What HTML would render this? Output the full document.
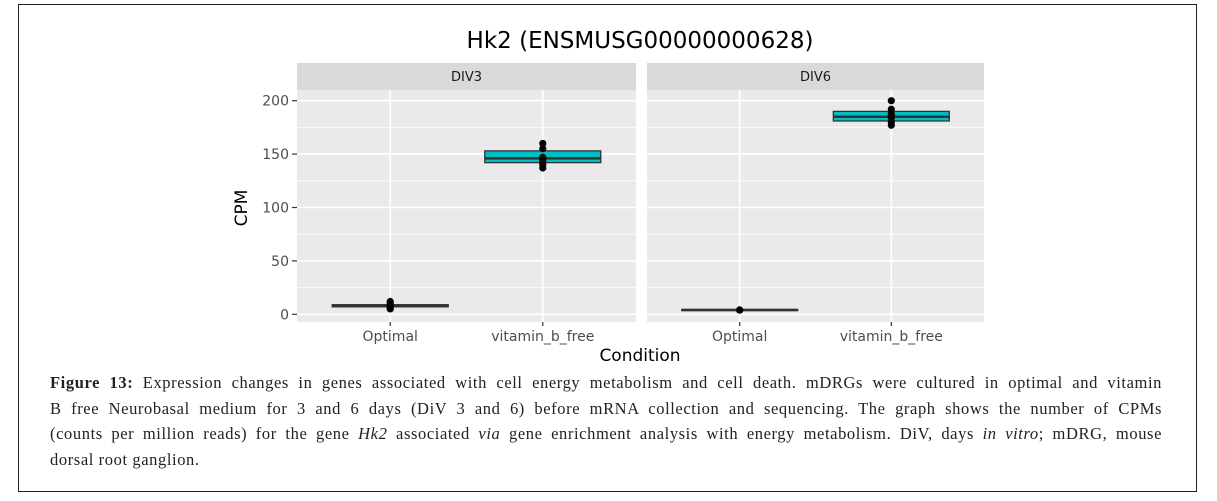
<!DOCTYPE html>
<html><head><meta charset="utf-8"><style>
body{margin:0;background:#fff;width:1217px;height:501px;overflow:hidden;position:relative}
#frame{position:absolute;left:18px;top:4px;width:1179px;height:488px;border:1.5px solid #222;box-sizing:border-box}
#cap{position:absolute;left:50px;top:370px;width:1112px;font-family:"Liberation Serif",serif;font-size:16.5px;letter-spacing:0.6px;line-height:25.5px;color:#222}
#cap div{white-space:nowrap;text-align:justify;text-align-last:justify}
#cap div.last{text-align-last:left}
svg{position:absolute;left:0;top:0}
</style></head><body>
<div id="frame"></div>
<svg id="chart" width="1217" height="370"></svg>
<div id="cap">
<div><b>Figure 13:</b> Expression changes in genes associated with cell energy metabolism and cell death. mDRGs were cultured in optimal and vitamin</div>
<div>B free Neurobasal medium for 3 and 6 days (DiV 3 and 6) before mRNA collection and sequencing. The graph shows the number of CPMs</div>
<div>(counts per million reads) for the gene <i>Hk2</i> associated <i>via</i> gene enrichment analysis with energy metabolism. DiV, days <i>in vitro</i>; mDRG, mouse</div>
<div class="last">dorsal root ganglion.</div>
</div>
<script>
const panels=["DIV3","DIV6"];
const categories=["Optimal","vitamin_b_free"];
const yTicks=[0,50,100,150,200];
// box stats per panel per category: [q1, median, q3]
const boxDIV3=[[7,8,9],[142,146,153]];
const boxDIV6=[[3.5,4,4.5],[181,185,190]];
const ptsDIV3Opt=[5,6,8,10,12];
const ptsDIV3Vit=[137,140,143,145,147,155,160];
const ptsDIV6Opt=[4,4,4];
const ptsDIV6Vit=[177,180,184,186,188,192,200];

const S=document.getElementById('chart');const NS='http://www.w3.org/2000/svg';
function el(t,a,p){const e=document.createElementNS(NS,t);for(const k in a)e.setAttribute(k,a[k]);(p||S).appendChild(e);return e;}
const panelX=[[297,636],[647,984]];const pTop=90,pBot=322;
function y(v){return 314.3-v*1.068;}
function x(pi,ci){const[a,b]=panelX[pi];const w=b-a;return a+w*(ci===0?0.275:0.725);}
const font='"DejaVu Sans","Liberation Sans",sans-serif';
const boxes=[boxDIV3,boxDIV6];const pts=[[ptsDIV3Opt,ptsDIV3Vit],[ptsDIV6Opt,ptsDIV6Vit]];
panels.forEach((p,pi)=>{
 const[a,b]=panelX[pi];
 const g=el('g',{});
 
 
 el('rect',{x:a,y:pTop,width:b-a,height:pBot-pTop,fill:'#EBE9EC'},g);
 const st=el('rect',{x:a,y:63,width:b-a,height:27,fill:'#D9D9D9'},g);
 
 
 const stt=el('text',{x:(a+b)/2,y:81,'text-anchor':'middle','font-family':font,'font-size':13,fill:'#1a1a1a'},g);stt.textContent=p;
 
 
 for(let i=0;i<yTicks.length-1;i++){const m=(yTicks[i]+yTicks[i+1])/2;el('line',{x1:a,x2:b,y1:y(m),y2:y(m),stroke:'#fff','stroke-width':0.8},g);}
 yTicks.forEach(t=>el('line',{x1:a,x2:b,y1:y(t),y2:y(t),stroke:'#fff','stroke-width':1.6},g));
 categories.forEach((c,ci)=>{
  const cx=x(pi,ci);
  el('line',{x1:cx,x2:cx,y1:pTop,y2:pBot,stroke:'#fff','stroke-width':1.6},g);
  el('line',{x1:cx,x2:cx,y1:pBot,y2:pBot+4,stroke:'#333','stroke-width':1.2},g);
  const lt=el('text',{x:cx,y:341,'text-anchor':'middle','font-family':font,'font-size':14,fill:'#4d4d4d'},g);lt.textContent=c;
  
  
  const bs=boxes[pi][ci];const hw=58;
  const r=el('rect',{x:cx-hw,y:y(bs[2]),width:2*hw,height:Math.max(1,y(bs[0])-y(bs[2])),fill:'#00BFC4',stroke:'#333','stroke-width':1.3},g);
  
  
  el('line',{x1:cx-hw,x2:cx+hw,y1:y(bs[1]),y2:y(bs[1]),stroke:'#333','stroke-width':2.5},g);
  pts[pi][ci].forEach(v=>{const d=el('circle',{cx:cx,cy:y(v),r:3.6,fill:'#000'},g);
   
   });
 });
});
yTicks.forEach(t=>{
 el('line',{x1:292,x2:297,y1:y(t),y2:y(t),stroke:'#333','stroke-width':1.2});
 const tt=el('text',{x:289,y:y(t)+5,'text-anchor':'end','font-family':font,'font-size':14,fill:'#4d4d4d'});tt.textContent=t;
 
 
});
const ti=el('text',{x:640,y:48,'text-anchor':'middle','font-family':font,'font-size':23,fill:'#000'});ti.textContent='Hk2 (ENSMUSG00000000628)';


const xl=el('text',{x:640,y:361,'text-anchor':'middle','font-family':font,'font-size':17,fill:'#000'});xl.textContent='Condition';


const yl=el('text',{x:0,y:0,'text-anchor':'middle','font-family':font,'font-size':17,fill:'#000',transform:'translate(247,208) rotate(-90)'});yl.textContent='CPM';


</script>
</body></html>
